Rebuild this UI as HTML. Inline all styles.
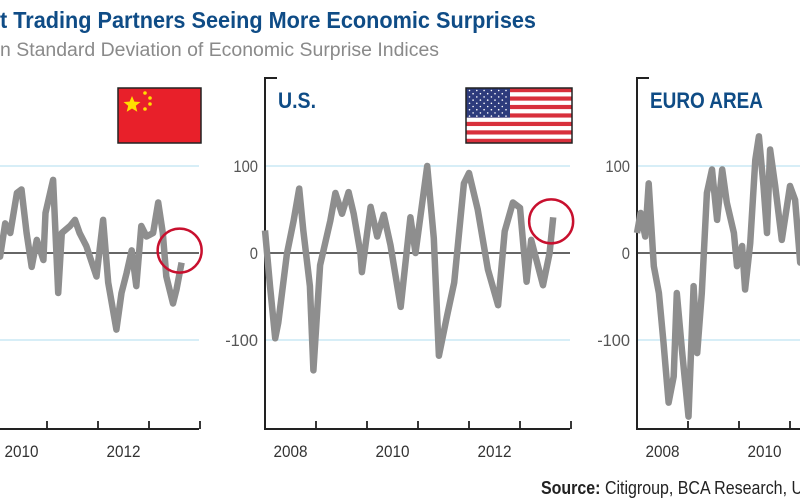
<!DOCTYPE html>
<html><head><meta charset="utf-8"><style>
html,body{margin:0;padding:0;background:#fff;width:800px;height:500px;overflow:hidden}
svg{display:block;font-family:"Liberation Sans Narrow","Liberation Sans",sans-serif}
</style></head><body>
<svg id="chart" width="800" height="500" viewBox="0 0 800 500">
<text x="0" y="28" font-size="23" font-weight="bold" fill="#0f4c86" textLength="536" lengthAdjust="spacingAndGlyphs">t Trading Partners Seeing More Economic Surprises</text>
<text x="0" y="56" font-size="19" fill="#8a8a8a" textLength="439" lengthAdjust="spacingAndGlyphs">n Standard Deviation of Economic Surprise Indices</text>
<g id="panels"></g>
<text x="541" y="494" font-size="18" fill="#222" textLength="262" lengthAdjust="spacingAndGlyphs"><tspan font-weight="bold">Source:</tspan> Citigroup, BCA Research, U</text>
</svg>
<script>
// year offsets from Jan 2008, values in standard-deviation index points
const chinaDates = [2.0,2.08,2.18,2.28,2.41,2.5,2.6,2.7,2.8,2.93,2.97,3.12,3.22,3.29,3.45,3.55,3.64,3.77,3.97,4.1,4.2,4.36,4.46,4.56,4.66,4.75,4.85,4.95,5.08,5.18,5.27,5.34,5.47,5.54,5.64];
const chinaValues = [-6,-4,34,23,69,73,23,-16,15,-8,46,84,-46,23,31,38,23,8,-27,38,-34,-88,-46,-23,3,-38,31,19,23,58,23,-27,-58,-42,-11];
const usDates = [0,0.1,0.2,0.26,0.43,0.56,0.67,0.75,0.88,0.95,1.08,1.28,1.38,1.51,1.64,1.74,1.87,1.9,2.07,2.2,2.33,2.46,2.66,2.85,2.95,3.18,3.31,3.41,3.57,3.71,3.9,4.0,4.17,4.37,4.57,4.7,4.86,5.0,5.13,5.22,5.45,5.58,5.65];
const usValues = [26,-39,-98,-80,-1,37,74,26,-38,-135,-14,37,69,45,70,45,0,-22,53,19,44,9,-62,41,0,100,17,-118,-72,-34,80,92,50,-19,-60,25,58,52,-33,15,-37,0,41];
const euroDates = [0,0.07,0.16,0.23,0.33,0.43,0.52,0.62,0.72,0.78,0.88,1.01,1.11,1.18,1.27,1.37,1.47,1.57,1.67,1.76,1.9,1.96,2.06,2.12,2.22,2.32,2.39,2.48,2.55,2.61,2.71,2.84,3.0,3.1,3.2,3.3];
const euroValues = [23,46,19,80,-15,-46,-103,-172,-142,-46,-111,-188,-38,-115,-46,69,96,38,96,58,23,-15,8,-42,11,107,134,77,23,119,77,15,77,61,-11,-5];
const yTicks = [100,0,-100];
const yearLabels = ["2008","2010","2012"];
const yearLabelOffsets = [0,2,4];

const NS="http://www.w3.org/2000/svg";
const g=document.getElementById('panels');
const PXY=51, PXV=0.87, Y0=253, BOTTOM=429, TOP=78, PW=305;
function mk(tag,attrs,parent){const e=document.createElementNS(NS,tag);for(const k in attrs)e.setAttribute(k,attrs[k]);(parent||g).appendChild(e);return e;}

function panel(x0,key,dates,values,title,titleLen){
  const xs=t=>x0+t*PXY, ys=v=>Y0-v*PXV;
  const p=mk('g',{});
  
  
  yTicks.forEach(v=>{
    const l=mk('line',{x1:x0,x2:x0+PW,y1:ys(v),y2:ys(v),stroke:v===0?'#333':'#bfe4f2','stroke-width':v===0?1.6:1.2},p);
    
    
    const s=String(v);
    const t=mk('text',{x:x0-7,y:ys(v)+6,'font-size':17,fill:'#555','text-anchor':'end',textLength:s.length*8.2,lengthAdjust:'spacingAndGlyphs'},p);
    t.textContent=s;
    
    
  });
  const ax=mk('path',{d:`M${x0+12},${TOP}H${x0}V${BOTTOM}H${x0+PW}`,fill:'none',stroke:'#222','stroke-width':2},p);
  
  
  for(let k=1;k<=6;k++){
    const tk=mk('line',{x1:xs(k),x2:xs(k),y1:BOTTOM,y2:BOTTOM-8,stroke:'#222','stroke-width':1.8},p);
    
    
  }
  yearLabels.forEach((lab,i)=>{
    const t=mk('text',{x:xs(yearLabelOffsets[i]+0.5),y:457,'font-size':17,fill:'#333','text-anchor':'middle',textLength:34,lengthAdjust:'spacingAndGlyphs'},p);
    t.textContent=lab;
    
    
  });
  if(title){
    const t=mk('text',{x:x0+13,y:108,'font-size':22,'font-weight':'bold',fill:'#0f4c86',textLength:titleLen,lengthAdjust:'spacingAndGlyphs'},p);
    t.textContent=title;
    
    
  }
  const d=dates.map((t,i)=>(i?'L':'M')+xs(t).toFixed(1)+','+ys(values[i]).toFixed(1)).join('');
  const ln=mk('path',{d,fill:'none',stroke:'#8e8e8e','stroke-width':6.5,'stroke-linejoin':'round'},p);
  
  
  return {xs,ys,p};
}
const cn=panel(-106,'china',chinaDates,chinaValues,null,0);
const us=panel(265,'us',usDates,usValues,'U.S.',38);
const eu=panel(637,'euro-area',euroDates,euroValues,'EURO AREA',113);

// highlight circles around latest reading
function circ(P,key,dates,values){
  const i=dates.length-1;
  const c=mk('circle',{cx:P.xs(dates[i])-2,cy:P.ys(values[i])+(values[i]<0?-12:4),r:22,fill:'none',stroke:'#c8102e','stroke-width':2.5},P.p);
  
  
}
circ(cn,'china',chinaDates,chinaValues);
circ(us,'us',usDates,usValues);

// China flag
const cf=mk('g',{});


mk('rect',{x:118,y:88,width:83,height:55,fill:'#e8202a',stroke:'#222','stroke-width':1.5},cf);
mk('polygon',{points:'132,96 134.4,101.6 140.5,102 135.8,105.8 137.3,111.8 132,108.5 126.7,111.8 128.2,105.8 123.5,102 129.6,101.6',fill:'#ffde00'},cf);
[[145,93],[150,98],[150,104],[145,109]].forEach(([x,y])=>mk('circle',{cx:x,cy:y,r:1.8,fill:'#ffde00'},cf));

// US flag
const uf=mk('g',{});


for(let s=0;s<13;s++){mk('rect',{x:466,y:88+s*55/13,width:106,height:55/13+0.2,fill:s%2?'#fff':'#d8303c'},uf);}
mk('rect',{x:466,y:88,width:44,height:29.6,fill:'#2d3b7c'},uf);
for(let r=0;r<9;r++)for(let c=0;c<(r%2?5:6);c++){mk('circle',{cx:469.5+c*7.3+(r%2?3.6:0),cy:90.5+r*3.2,r:0.8,fill:'#fff'},uf);}
mk('rect',{x:466,y:88,width:106,height:55,fill:'none',stroke:'#222','stroke-width':1.5},uf);
</script>
</body></html>
